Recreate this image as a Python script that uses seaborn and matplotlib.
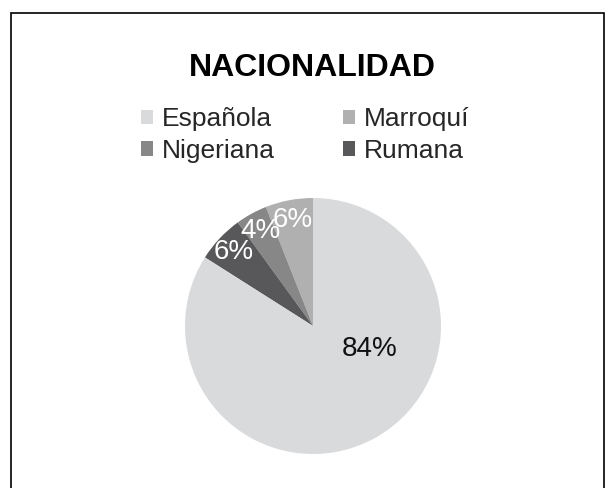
import matplotlib
matplotlib.use('Agg')
import matplotlib.pyplot as plt
from matplotlib.patches import Rectangle
import seaborn as sns

# data
categories = ['Española', 'Marroquí', 'Nigeriana', 'Rumana']
values = [84, 6, 4, 6]
colors = ['#d9dadc', '#b0b0b1', '#878788', '#58585a']

sns.set_theme(style='white')
plt.rcParams['font.family'] = ['Liberation Sans', 'DejaVu Sans']

fig = plt.figure(figsize=(6.05, 4.88), dpi=100)

# pie drawn counterclockwise from the top: Marroquí, Nigeriana, Rumana, Española
order = [1, 2, 3, 0]
ax = fig.add_axes([185 / 605, 34 / 488, 256 / 605, 256 / 488])
wedges, texts, autotexts = ax.pie(
    [values[i] for i in order],
    colors=[colors[i] for i in order],
    startangle=90, counterclock=True,
    autopct='%1.0f%%', pctdistance=0.845,
    wedgeprops=dict(linewidth=0),
    textprops=dict(fontsize=20, color='white'),
)
ax.set_xlim(-1, 1)
ax.set_ylim(-1, 1)
ax.set_aspect('equal')

# big slice label sits right of center, like the Excel original
big = autotexts[order.index(0)]
big.set_color('#111111')
big.set_position((0.445, -0.18))

# title
fig.text(312 / 605, 1 - 76 / 488, 'NACIONALIDAD', ha='center', va='baseline',
         fontsize=23, fontweight='bold', color='black')

# legend filled row by row (matplotlib fills columns first, so swap)
leg_order = [0, 2, 1, 3]
handles = [wedges[order.index(i)] for i in leg_order]
labels = [categories[i] for i in leg_order]
fig.legend(handles, labels, loc='center', ncol=2,
           bbox_to_anchor=(305 / 605, 1 - 135 / 488),
           frameon=False, fontsize=19,
           handlelength=0.47, handleheight=0.47, handletextpad=0.32,
           columnspacing=2.6, labelspacing=0.28)

# outer frame
fig.patches.append(Rectangle((11 / 605, -0.02), (604 - 11) / 605, (488 - 13) / 488 + 0.02,
                             transform=fig.transFigure, fill=False,
                             edgecolor='black', linewidth=1.2))

fig.savefig('out.png', dpi=100)
